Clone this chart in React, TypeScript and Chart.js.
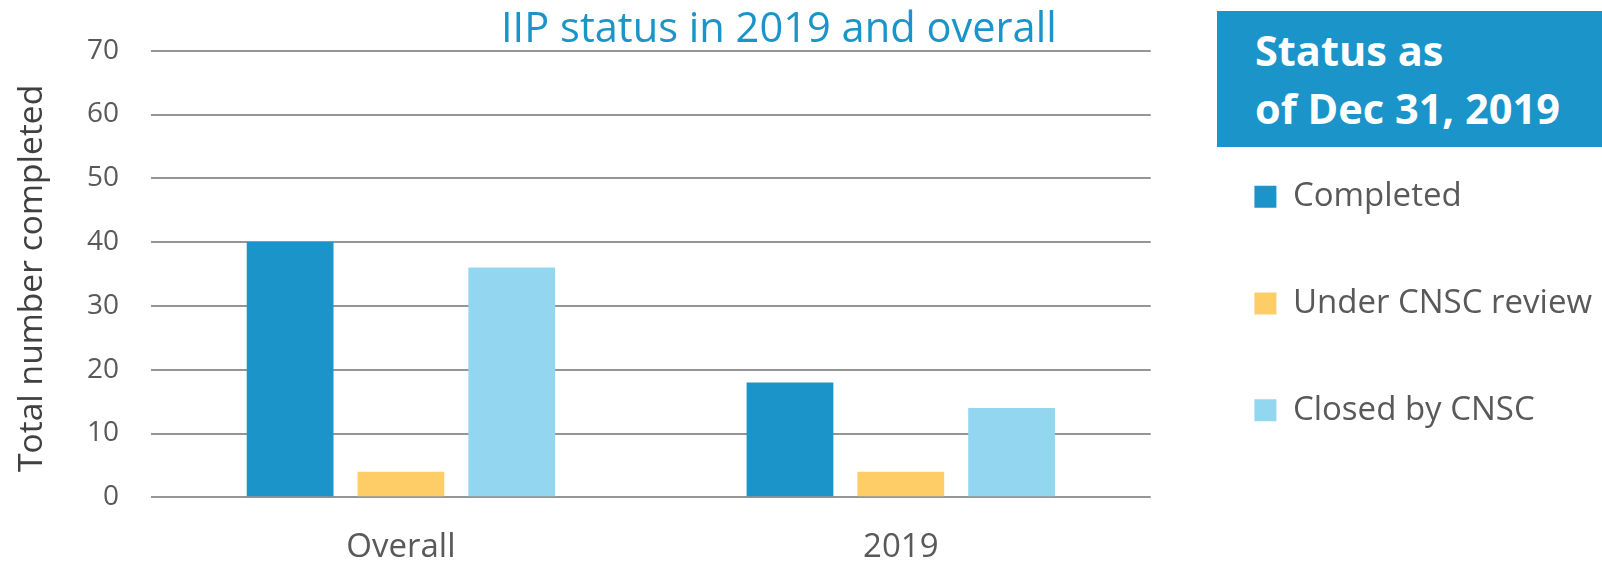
import React, { useEffect, useRef } from "react";
import { Chart, registerables } from "chart.js";

Chart.register(...registerables);

// ---- data ----
const categories = ["Overall", "2019"];
const completed = [40, 18];
const underReview = [4, 4];
const closedByCnsc = [36, 14];
const seriesNames = ["Completed", "Under CNSC review", "Closed by CNSC"];
const yTickValues = [0, 10, 20, 30, 40, 50, 60, 70];
const chartTitle = "IIP status in 2019 and overall";
const yAxisTitle = "Total number completed";
const statusLines = ["Status as", "of Dec 31, 2019"];

// ---- styles ----
const seriesColors = ["#1A94C9", "#FECD68", "#93D6F0"];
const textGray = "#595959";
const FONT = "'Open Sans', 'Noto Sans', sans-serif";

export default function App() {
  const canvasRef = useRef<HTMLCanvasElement | null>(null);

  useEffect(() => {
    const canvas = canvasRef.current;
    if (!canvas) return;
    Chart.defaults.font.family = FONT;
    const seriesData = [completed, underReview, closedByCnsc];
    const chart = new Chart(canvas, {
      type: "bar",
      data: {
        labels: categories,
        datasets: seriesNames.map((name, i) => ({
          label: name,
          data: seriesData[i],
          backgroundColor: seriesColors[i],
          borderWidth: 0,
        })),
      },
      options: {
        responsive: false,
        animation: false,
        devicePixelRatio: 1,
        layout: { padding: { top: 50.7, bottom: 0, left: 0, right: 0 } },
        datasets: { bar: { categoryPercentage: 0.665, barPercentage: 0.783 } },
        plugins: {
          title: { display: false },
          tooltip: { enabled: false },
          legend: {
            position: "right",
            align: "start",
            maxWidth: 600,
            title: {
              display: true,
              text: " ",
              font: { size: 10, lineHeight: 1.2 },
              padding: { top: 43.9, bottom: 0 },
            },
            labels: {
              boxWidth: 22,
              boxHeight: 22,
              padding: 73.7,
              color: textGray,
              font: { size: 33 },
            },
          },
        },
        scales: {
          x: {
            grid: { display: false },
            border: { display: false },
            ticks: { color: textGray, font: { size: 33 }, padding: 22 },
            afterFit: (s: any) => {
              s.height = 67.7;
            },
          },
          y: {
            min: yTickValues[0],
            max: yTickValues[yTickValues.length - 1],
            afterBuildTicks: (s: any) => {
              s.ticks = yTickValues.map((v) => ({ value: v }));
            },
            ticks: { color: textGray, font: { size: 28 }, padding: 32 },
            grid: { color: "#959595", lineWidth: 2, drawTicks: false },
            border: { display: false },
            title: {
              display: true,
              text: yAxisTitle + " ",
              color: "#404040",
              font: { size: 33.6 },
              padding: { top: 12, bottom: 0 },
            },
            afterFit: (s: any) => {
              s.width = 151;
            },
          },
          pad: {
            type: "linear",
            position: "right",
            display: true,
            grid: { display: false },
            border: { display: false },
            ticks: { display: false },
            afterFit: (s: any) => {
              s.width = 30;
            },
          },
        },
      } as any,
    });
    return () => chart.destroy();
  }, []);

  return (
    <div
      style={{
        position: "absolute",
        left: 0,
        top: 0,
        width: 1602,
        height: 565,
        background: "#fff",
        overflow: "hidden",
      }}
    >
      <canvas
        ref={canvasRef}
        width={1602}
        height={565}
        style={{ position: "absolute", left: 0, top: 0, width: 1602, height: 565 }}
      />
      <div
        style={{
          position: "absolute",
          left: 501,
          top: 6,
          fontFamily: FONT,
          fontSize: 41.6,
          lineHeight: "41px",
          color: "#1A94C9",
          whiteSpace: "nowrap",
        }}
      >
        {chartTitle}
      </div>
      <div
        style={{
          position: "absolute",
          left: 1217,
          top: 11,
          width: 385,
          height: 136,
          background: "#1A94C9",
          boxSizing: "border-box",
          paddingLeft: 38,
          paddingTop: 10,
          fontFamily: FONT,
          fontWeight: 700,
          fontSize: 41.5,
          lineHeight: "58px",
          color: "#fff",
          whiteSpace: "nowrap",
        }}
      >
        {statusLines.map((l) => (
          <div key={l}>{l}</div>
        ))}
      </div>
    </div>
  );
}
